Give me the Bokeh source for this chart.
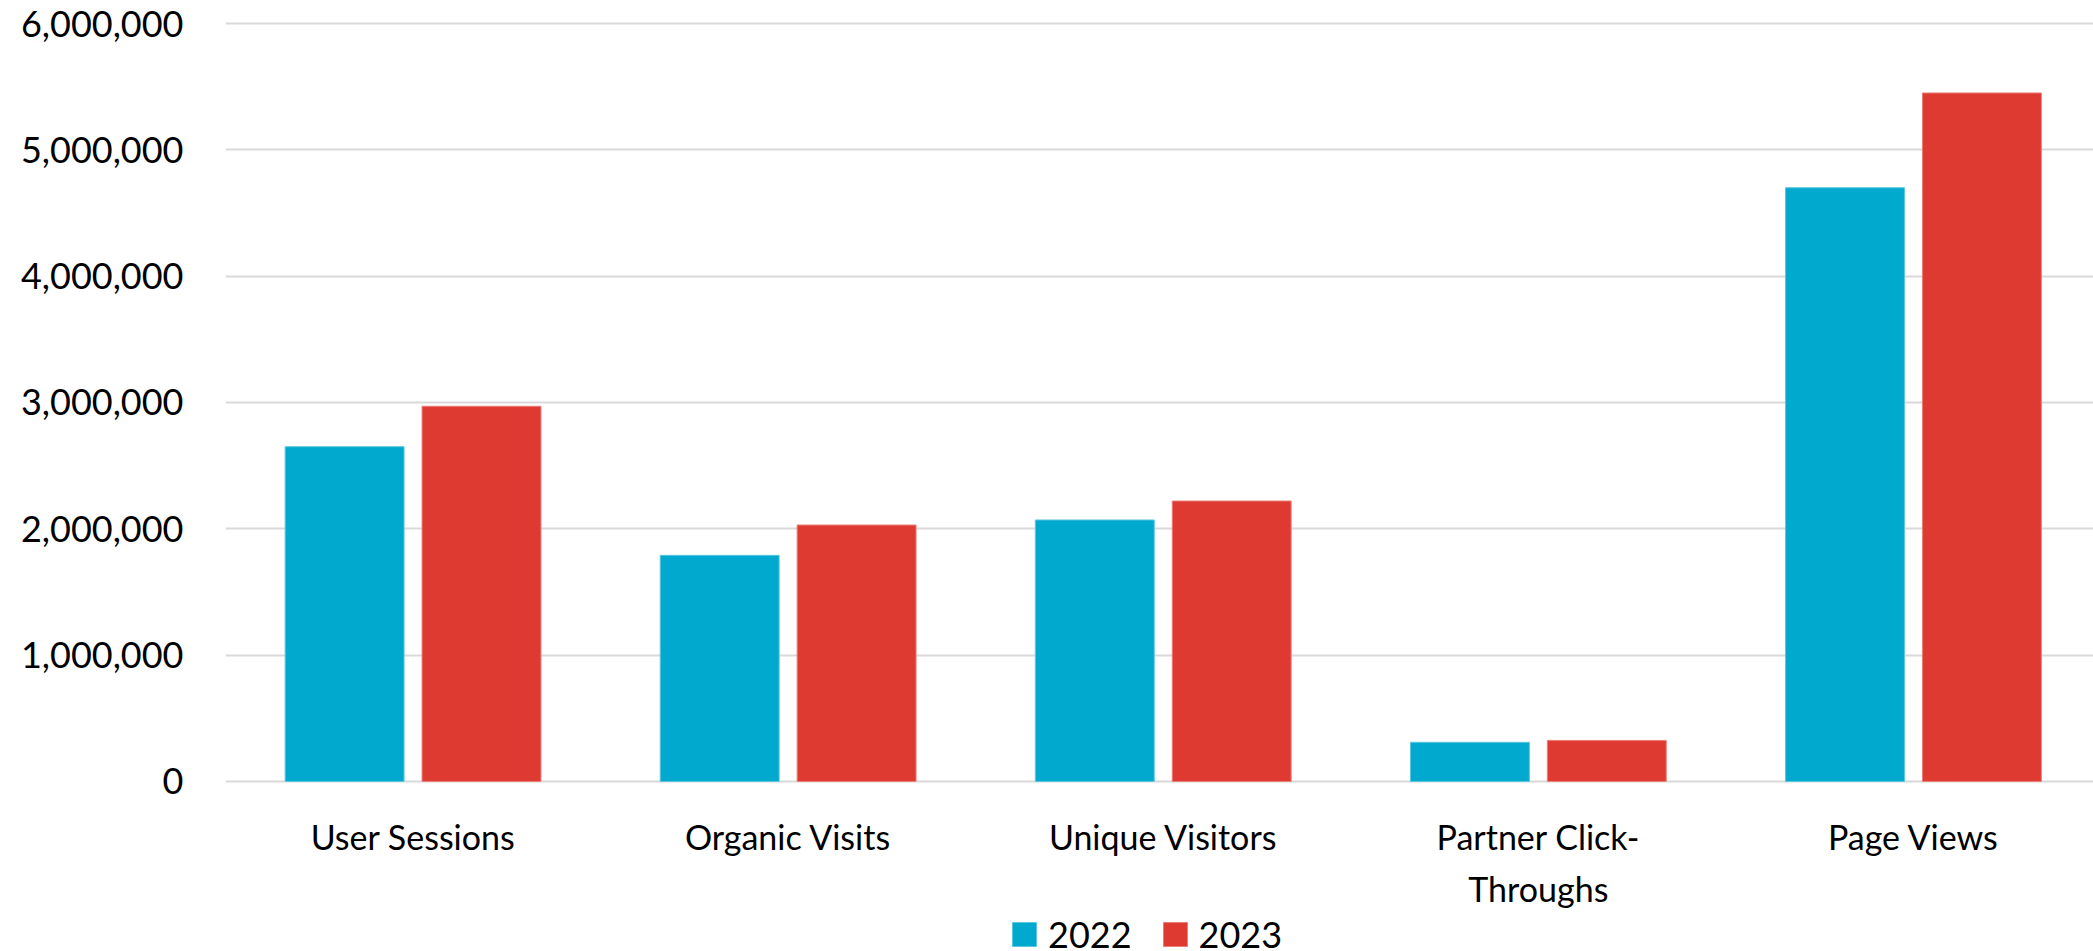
from bokeh.plotting import figure
from bokeh.models import (Range1d, FixedTicker, NumeralTickFormatter, Legend, LegendItem)
from bokeh.core.properties import value
from bokeh.transform import dodge
from bokeh.models import ColumnDataSource
from bokeh.embed import file_html
from bokeh.resources import INLINE

categories = ["User Sessions", "Organic Visits", "Unique Visitors", "Partner Click-\nThroughs", "Page Views"]
series_names = ["2022", "2023"]
values_2022 = [2650000, 1790000, 2070000, 310000, 4700000]
values_2023 = [2970000, 2030000, 2220000, 325000, 5450000]
y_ticks = [0, 1000000, 2000000, 3000000, 4000000, 5000000, 6000000]

FONT = "Lato"
C22 = "#00A9CD"
C23 = "#DF3A32"

xs = [i + 0.5 for i in range(len(categories))]
src = ColumnDataSource(dict(x=xs, v22=values_2022, v23=values_2023))

# the frame runs to the bottom of the page; the category labels and legend sit below y = 0
p = figure(frame_width=1868, frame_height=936, output_backend="svg", toolbar_location=None,
           x_range=Range1d(0, 4.98), y_range=Range1d(-1346000, 6063300),
           x_axis_location=None,
           min_border_left=225, min_border_right=0, min_border_top=15, min_border_bottom=0)
p.outline_line_color = None
p.background_fill_color = "white"
p.border_fill_color = "white"

bw = 0.317
off = 0.1825
r1 = p.vbar(x=dodge("x", -off), top="v22", bottom=0, width=bw, source=src,
            fill_color=C22, line_color="#5CC6E0", line_width=1)
r2 = p.vbar(x=dodge("x", off), top="v23", bottom=0, width=bw, source=src,
            fill_color=C23, line_color="#EB7E79", line_width=1)

# y axis
p.yaxis.ticker = FixedTicker(ticks=y_ticks)
p.yaxis.formatter = NumeralTickFormatter(format="0,0")
p.yaxis.axis_line_color = None
p.yaxis.major_tick_line_color = None
p.yaxis.minor_tick_line_color = None
p.yaxis.major_tick_out = 0
p.yaxis.major_label_standoff = 42
p.yaxis.major_label_text_font = FONT
p.yaxis.major_label_text_font_size = "36px"
p.yaxis.major_label_text_color = "black"

p.xgrid.grid_line_color = None
p.ygrid.ticker = FixedTicker(ticks=y_ticks)
p.ygrid.grid_line_color = "#D9D9D9"
p.ygrid.grid_line_width = 2

# category labels (wrapped like the reference)
LABEL_Y1 = -433000
LABEL_Y2 = -850000
lab1 = ColumnDataSource(dict(x=xs, y=[LABEL_Y1] * len(xs), t=[c.split("\n")[0] for c in categories]))
x2 = [x for x, c in zip(xs, categories) if "\n" in c]
t2 = [c.split("\n")[1] for c in categories if "\n" in c]
lab2 = ColumnDataSource(dict(x=x2, y=[LABEL_Y2] * len(x2), t=t2))
for s in (lab1, lab2):
    p.text(x="x", y="y", text="t", source=s, text_font=value(FONT), text_font_size="34px",
           text_align="center", text_baseline="alphabetic", text_color="black")

legend = Legend(items=[LegendItem(label=series_names[0], renderers=[r1]),
                       LegendItem(label=series_names[1], renderers=[r2])],
                orientation="horizontal", location=(784, -5),
                label_text_font=FONT, label_text_font_size="36px", label_text_color="black",
                glyph_width=30, glyph_height=30, label_standoff=9, spacing=28,
                padding=0, margin=0, border_line_color=None,
                background_fill_alpha=0,
                label_height=30, label_text_baseline="middle")
p.add_layout(legend, "center")

open("out.html", "w").write(file_html(p, INLINE))
